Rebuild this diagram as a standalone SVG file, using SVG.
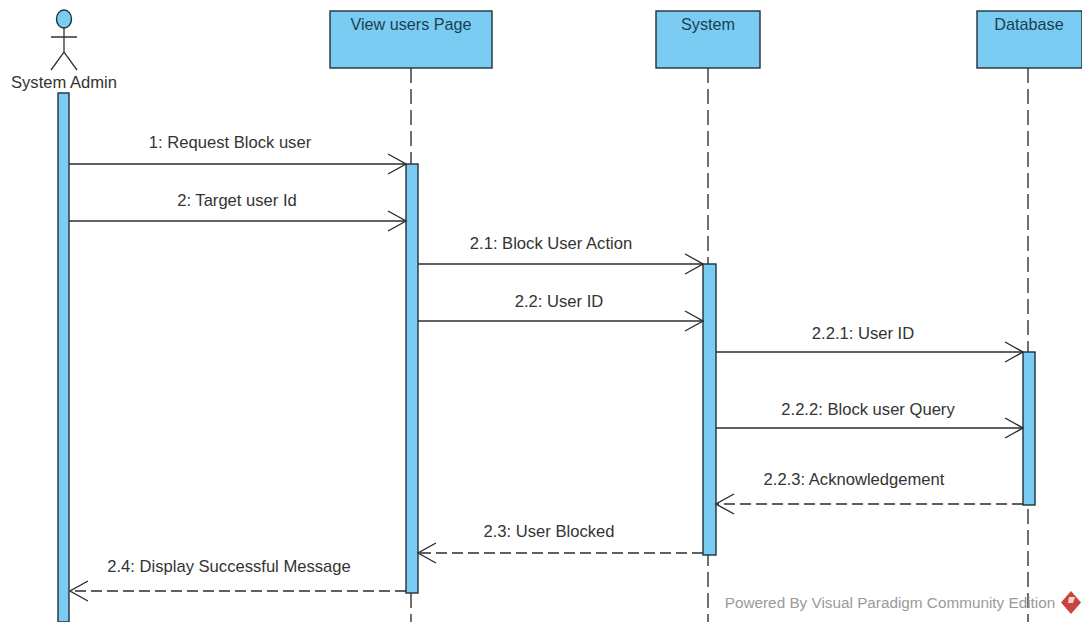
<svg xmlns="http://www.w3.org/2000/svg" width="1082" height="622" viewBox="0 0 1082 622">
<style>
text{font-family:"Liberation Sans",Arial,sans-serif;font-size:16.6px;fill:#333;text-anchor:middle}
.head{fill:#7accf2;stroke:#22303a;stroke-width:1.4}
.name{fill:#1c3f54;font-size:16.2px}
.life{stroke:#333;stroke-width:1.4;stroke-dasharray:15 6;fill:none}
.act{fill:#7accf2;stroke:#22303a;stroke-width:1.4}
.msg{stroke:#2c2c2c;stroke-width:1.4;fill:none}
.ret{stroke:#2c2c2c;stroke-width:1.4;fill:none;stroke-dasharray:11 5}
.ah{stroke:#2c2c2c;stroke-width:1.4;fill:none}
</style>
<defs>
<marker id="open" markerUnits="userSpaceOnUse" markerWidth="24" markerHeight="24" refX="20" refY="11" orient="auto"><path class="ah" d="M2 1 L20 11 L2 21"/></marker>
</defs>
<rect width="1082" height="622" fill="#fff"/>
<g id="lifelines">
<line class="life" x1="411" y1="68" x2="411" y2="622"/>
<line class="life" x1="708" y1="68" x2="708" y2="622"/>
<line class="life" x1="1028" y1="68" x2="1028" y2="622"/>
</g>
<g id="actor-admin">
<ellipse cx="64" cy="19" rx="7.5" ry="9" fill="#7accf2" stroke="#22303a" stroke-width="1.4"/>
<path d="M64 28V52M51 37H77M51 70L64 52L77 70" fill="none" stroke="#333" stroke-width="1.3"/>
<text x="64" y="88">System Admin</text>
<rect class="act" x="58" y="93" width="11" height="529"/>
</g>
<g id="view-users-page">
<rect class="head" x="330" y="11" width="162" height="57"/>
<text class="name" x="411" y="30">View users Page</text>
<rect class="act" x="406" y="164" width="12" height="429"/>
</g>
<g id="system">
<rect class="head" x="656" y="11" width="104" height="57"/>
<text class="name" x="708" y="30">System</text>
<rect class="act" x="703" y="264" width="13" height="291"/>
</g>
<g id="database">
<rect class="head" x="977" y="11" width="105" height="57"/>
<text class="name" x="1029" y="30">Database</text>
<rect class="act" x="1023" y="352" width="12" height="153"/>
</g>
<g id="connectors">
<line class="msg" x1="69" y1="164" x2="406" y2="164" marker-end="url(#open)"/>
<line class="msg" x1="69" y1="221" x2="406" y2="221" marker-end="url(#open)"/>
<line class="msg" x1="418" y1="264" x2="703" y2="264" marker-end="url(#open)"/>
<line class="msg" x1="418" y1="321" x2="703" y2="321" marker-end="url(#open)"/>
<line class="msg" x1="716" y1="352" x2="1023" y2="352" marker-end="url(#open)"/>
<line class="msg" x1="716" y1="428" x2="1023" y2="428" marker-end="url(#open)"/>
<line class="ret" x1="1023" y1="504" x2="716" y2="504" marker-end="url(#open)"/>
<line class="ret" x1="703" y1="553" x2="418" y2="553" marker-end="url(#open)"/>
<line class="ret" x1="406" y1="591" x2="70" y2="591" marker-end="url(#open)"/>
</g>
<g id="labels">
<text x="230" y="148">1: Request Block user</text>
<text x="237" y="206">2: Target user Id</text>
<text x="551" y="249">2.1: Block User Action</text>
<text x="559" y="307">2.2: User ID</text>
<text x="863" y="339">2.2.1: User ID</text>
<text x="868" y="415">2.2.2: Block user Query</text>
<text x="854" y="485">2.2.3: Acknowledgement</text>
<text x="549" y="537">2.3: User Blocked</text>
<text x="229" y="572">2.4: Display Successful Message</text>
</g>
<g id="watermark">
<text x="890" y="608" style="font-size:15.3px;fill:#9a9a9a">Powered By  Visual Paradigm Community Edition</text>
<path d="M1071 591L1081 602.500L1071 614L1061 602.500Z" fill="#c8453f"/>
<path d="M1069 597h6l-2 6h-5z" fill="#f3d5d0"/>
</g>
</svg>
